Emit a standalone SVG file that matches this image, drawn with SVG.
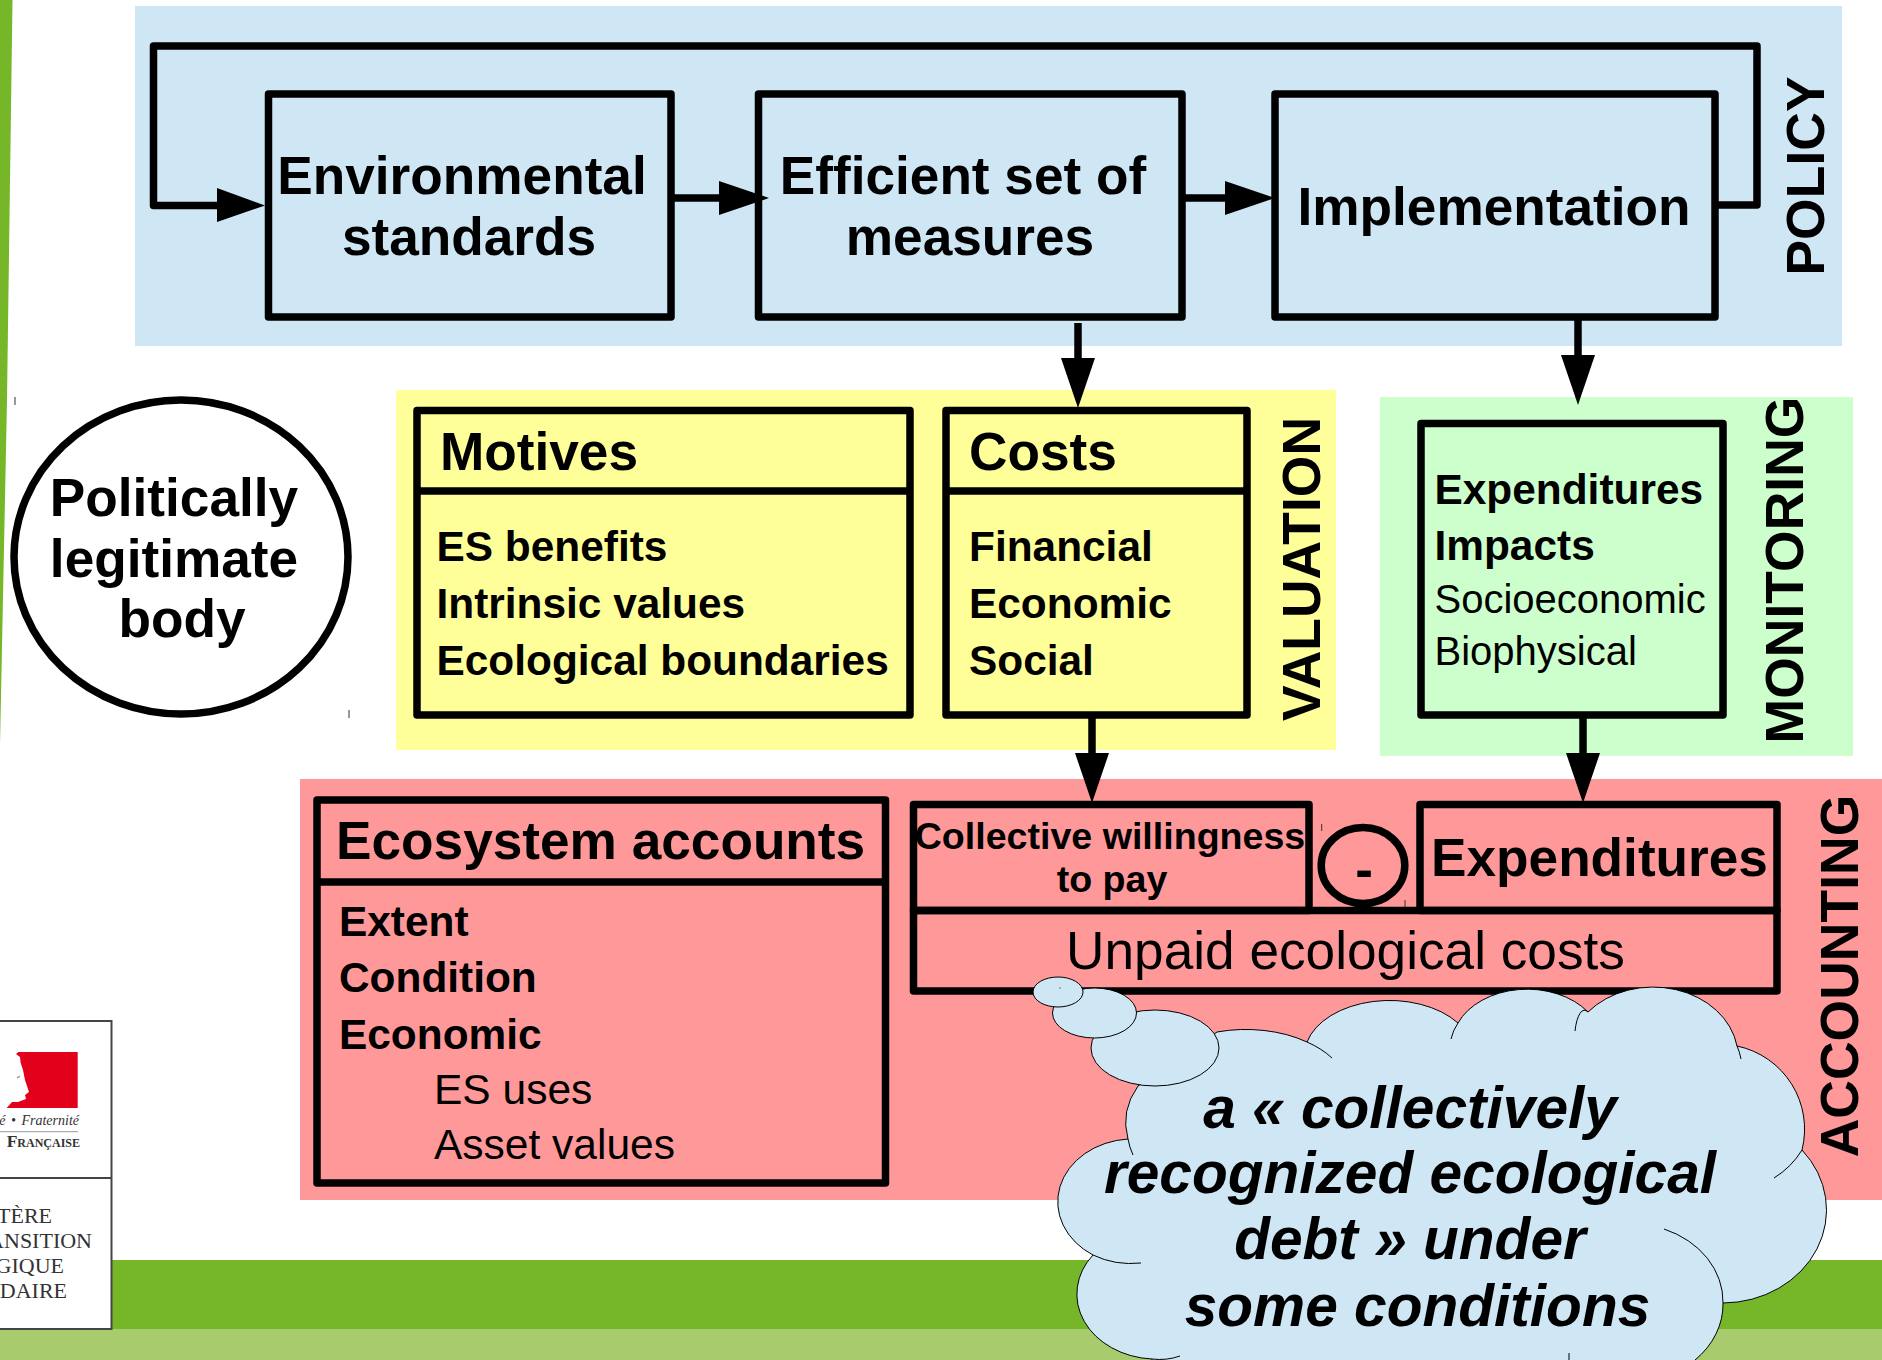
<svg xmlns="http://www.w3.org/2000/svg" width="1882" height="1360" viewBox="0 0 1882 1360">
<style>
text{font-family:"Liberation Sans",Arial,sans-serif;fill:#000}
.b53{font-size:53.2px;font-weight:700}
.v{font-size:53.500px;font-weight:700;text-anchor:middle}
.b42{font-size:42.400px;font-weight:700}
.r40{font-size:40px}
.r42{font-size:42.500px}
.r53{font-size:53.200px}
.w{font-size:37.600px;font-weight:700;text-anchor:middle}
.m{text-anchor:middle}
.box{fill:none;stroke:#000;stroke-width:7.500;stroke-linejoin:round}
.conn{fill:none;stroke:#000;stroke-width:7.500;stroke-linejoin:round}
.cl{fill:#cfe6f4;stroke:#000;stroke-width:1}
.cx{fill:none;stroke:#000;stroke-width:1}
.c{font-size:58.600px;font-weight:700;font-style:italic;text-anchor:middle}
.s{font-family:"Liberation Serif","Times New Roman",serif;fill:#333;text-anchor:end}
</style>
<defs>
<marker id="ah" markerUnits="userSpaceOnUse" markerWidth="52" markerHeight="36" refX="1" refY="17" orient="auto"><path d="M0,0L50,17L0,34Z" fill="#000"/></marker>
</defs>
<rect width="1882" height="1360" fill="#fff"/>
<g id="background">
<polygon points="0,0 12.5,0 7,400 0,745" fill="#76b72a"/>
<rect x="0" y="1260" width="1882" height="69" fill="#76b72a"/>
<rect x="0" y="1329" width="1882" height="31" fill="#a8cb6e"/>
<rect x="135" y="6" width="1707" height="340" fill="#cfe6f4"/>
<rect x="396" y="390" width="940" height="360" fill="#ffff99"/>
<rect x="1380" y="397" width="473" height="359" fill="#ccffcc"/>
<rect x="300" y="779" width="1582" height="421" fill="#ff9999"/>
<path d="M15,397V405M349,710V718M1321.700,824V831M1405,900V907" stroke="#333" stroke-width="1"/>
</g>
<g id="logo">
<rect x="-3" y="1021" width="114.500" height="308" fill="#fff" stroke="#444" stroke-width="2"/>
<path d="M-3,1178H111.500" stroke="#444" stroke-width="2"/>
<path d="M18.300,1052H77.700V1108H6.700L12,1102L18,1102L26,1099L25,1095L29,1092L25,1080L23,1070L20.700,1063L20,1057L16,1054Z" fill="#e2001a"/>
<path d="M17,1078L20,1076" stroke="#999" stroke-width="1.500"/>
<path d="M0,1131.700H78" stroke="#999" stroke-width="1"/>
<text class="s" x="79" y="1125" font-size="14" font-style="italic" word-spacing="2">é • Fraternité</text>
<text class="s" x="80" y="1147" font-size="17.500" style="font-variant:small-caps" font-weight="700">Française</text>
<text class="s" x="52" y="1223" font-size="22">TÈRE</text>
<text class="s" x="92" y="1248" font-size="22">ANSITION</text>
<text class="s" x="64" y="1273" font-size="22">GIQUE</text>
<text class="s" x="67" y="1298" font-size="22">DAIRE</text>
</g>
<g id="connectors">
<path class="conn" d="M1715,205H1757V46H153.500V205.500H218"/>
<path d="M217,188L265,205.500L217,222Z" fill="#000"/>
<path class="conn" d="M671,198H720" marker-end="url(#ah)"/>
<path class="conn" d="M1182,198H1226" marker-end="url(#ah)"/>
<path class="conn" d="M1078,323V359" marker-end="url(#ah)"/>
<path class="conn" d="M1578,319V356" marker-end="url(#ah)"/>
<path class="conn" d="M1092,715V754" marker-end="url(#ah)"/>
<path class="conn" d="M1583,715V754" marker-end="url(#ah)"/>
</g>
<g id="env-standards">
<rect class="box" x="268.500" y="94" width="402.500" height="223"/>
<text class="b53 m" x="462" y="194">Environmental</text>
<text class="b53 m" x="469" y="255">standards</text>
</g>
<g id="efficient-measures">
<rect class="box" x="758.500" y="94" width="423.500" height="223"/>
<text class="b53 m" x="963" y="194">Efficient set of</text>
<text class="b53 m" x="970" y="255">measures</text>
</g>
<g id="implementation">
<rect class="box" x="1275" y="94" width="440" height="223"/>
<text class="b53 m" x="1494" y="224.500">Implementation</text>
</g>
<text class="v" transform="translate(1824,176) rotate(-90)">POLICY</text>
<g id="legitimate-body">
<ellipse cx="181" cy="557" rx="167" ry="157" fill="#fff" stroke="#000" stroke-width="7.500"/>
<text class="b53 m" x="174" y="516">Politically</text>
<text class="b53 m" x="174" y="577">legitimate</text>
<text class="b53 m" x="182" y="637">body</text>
</g>
<g id="motives">
<rect class="box" x="417" y="410.500" width="493" height="304.500"/>
<path class="box" d="M417,491H910"/>
<text class="b53" x="440" y="469.500">Motives</text>
<text class="b42" x="436.500" y="561">ES benefits</text>
<text class="b42" x="436.500" y="618">Intrinsic values</text>
<text class="b42" x="436.500" y="675">Ecological boundaries</text>
</g>
<g id="costs">
<rect class="box" x="946" y="410.500" width="301" height="304.500"/>
<path class="box" d="M946,491H1247"/>
<text class="b53" x="969" y="469.500">Costs</text>
<text class="b42" x="969" y="561">Financial</text>
<text class="b42" x="969" y="618">Economic</text>
<text class="b42" x="969" y="675">Social</text>
</g>
<text class="v" transform="translate(1320,569) rotate(-90)">VALUATION</text>
<g id="monitoring">
<rect class="box" x="1421" y="423.500" width="302" height="291.500"/>
<text class="b42" x="1434.500" y="504">Expenditures</text>
<text class="b42" x="1434.500" y="560">Impacts</text>
<text class="r40" x="1434.500" y="613">Socioeconomic</text>
<text class="r40" x="1434.500" y="665">Biophysical</text>
</g>
<text class="v" transform="translate(1803,570) rotate(-90)">MONITORING</text>
<g id="ecosystem-accounts">
<rect class="box" x="317" y="800" width="568.500" height="383"/>
<path class="box" d="M317,882H885.500"/>
<text class="b53" x="336" y="859">Ecosystem accounts</text>
<text class="b42" x="339" y="936">Extent</text>
<text class="b42" x="339" y="992">Condition</text>
<text class="b42" x="339" y="1049">Economic</text>
<text class="r42" x="434" y="1104">ES uses</text>
<text class="r42" x="434" y="1159">Asset values</text>
</g>
<g id="willingness">
<rect class="box" x="913.500" y="804.500" width="395.500" height="106"/>
<text class="w" x="1110" y="849">Collective willingness</text>
<text class="w" x="1112" y="892">to pay</text>
</g>
<g id="minus">
<ellipse cx="1363" cy="865.500" rx="41.800" ry="38" fill="none" stroke="#000" stroke-width="7.500"/>
<text class="b53 m" x="1364" y="888">-</text>
</g>
<g id="expenditures">
<rect class="box" x="1420" y="804.500" width="357" height="106"/>
<text class="b53" x="1431" y="876">Expenditures</text>
</g>
<g id="unpaid">
<rect class="box" x="913.500" y="910.500" width="863.500" height="80.500"/>
<text class="r53 m" x="1345.500" y="969">Unpaid ecological costs</text>
</g>
<text class="v" transform="translate(1858,976) rotate(-90)">ACCOUNTING</text>
<g id="cloud">
<path class="cl" d="M1217,1032A100 60 0 0 1 1307,1042A85 55 0 0 1 1458,1023A75 55 0 0 1 1588,1012A85 70 0 0 1 1737,1046A85 85 0 0 1 1802,1150A104 93 0 0 1 1723,1303A93 78 0 0 1 1695,1360V1400H1152V1359A80 65 0 0 1 1093,1255A76 63 0 0 1 1128,1139A95 75 0 0 1 1138,1086Z"/>
<path class="cx" d="M1307,1042A100 60 0 0 1 1332,1058M1451,1039A75 55 0 0 1 1458,1023M1575,1031A10 30 0 0 1 1588,1012M1737,1046A20 40 0 0 1 1741,1059M1802,1150A85 85 0 0 1 1774,1178M1664,1229A93 78 0 0 1 1723,1303M1152,1359A50 40 0 0 0 1180,1356M1141,1263A76 63 0 0 1 1093,1255M1128,1139A95 75 0 0 0 1133,1155M1569,1353V1360"/>
<ellipse class="cl" cx="1155" cy="1048" rx="64" ry="38"/>
<ellipse class="cl" cx="1094.500" cy="1013" rx="42" ry="25"/>
<ellipse class="cl" cx="1058" cy="992" rx="25" ry="15"/>
<circle cx="1060" cy="988" r="0.600" fill="#000"/>
<text class="c" x="1410" y="1127.500">a « collectively</text>
<text class="c" x="1410" y="1192.500">recognized ecological</text>
<text class="c" x="1410" y="1259">debt » under</text>
<text class="c" x="1417.500" y="1325.500">some conditions</text>
</g>
</svg>
